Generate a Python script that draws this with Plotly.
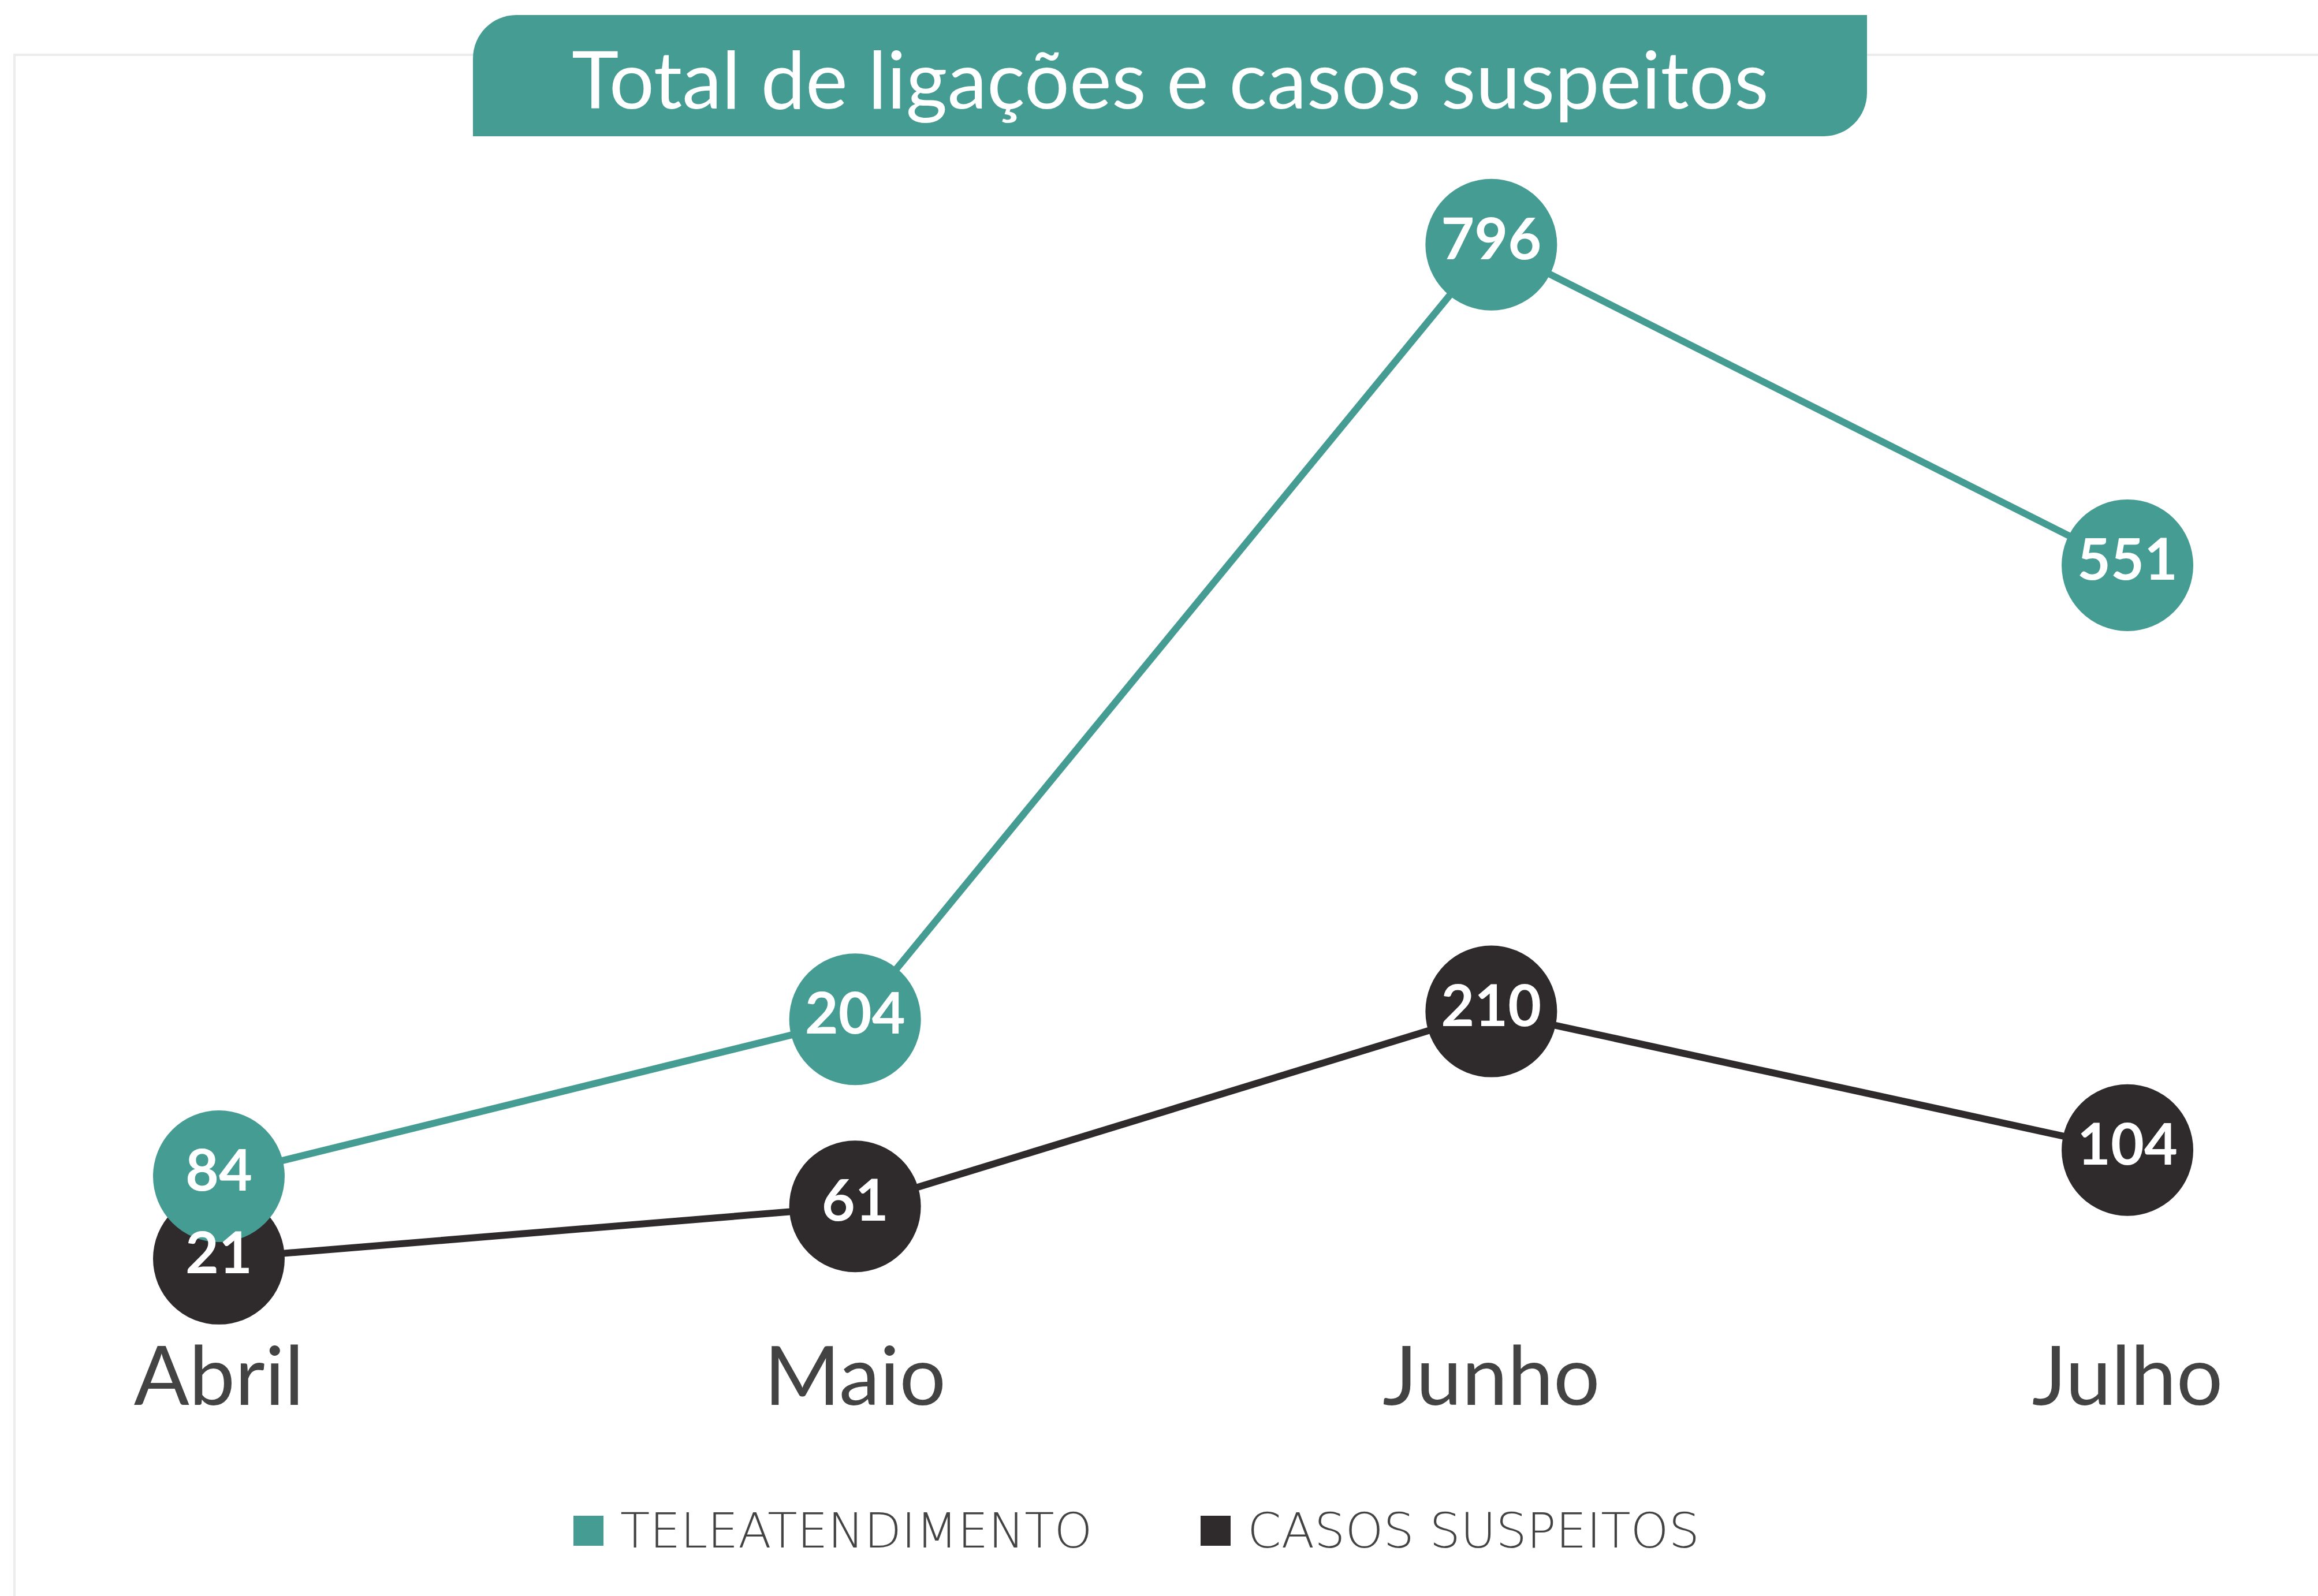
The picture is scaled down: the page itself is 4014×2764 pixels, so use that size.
import plotly.graph_objects as go

months = ["Abril", "Maio", "Junho", "Julho"]
teleatendimento = [84, 204, 796, 551]
casos_suspeitos = [21, 61, 210, 104]
series_names = ["TELEATENDIMENTO", "CASOS SUSPEITOS"]
title_text = "Total de ligações e casos suspeitos"

TEAL = "#459C92"
DARK = "#2F2B2C"
TEXT = "#434343"
W, H = 4014, 2764

def px(x):
    return x / W

def py(y):
    return 1 - y / H

fig = go.Figure()

series = [(series_names[1], casos_suspeitos, DARK), (series_names[0], teleatendimento, TEAL)]
for name, vals, col in series:
    fig.add_trace(go.Scatter(
        x=months, y=vals, name=name, mode="lines+markers",
        line=dict(color=col, width=12),
        marker=dict(size=228, color=col, line=dict(width=0)),
        cliponaxis=False, showlegend=False, hoverinfo="skip",
    ))
# value labels on top of all circles
for name, vals, col in series:
    fig.add_trace(go.Scatter(
        x=months, y=vals, name=name, mode="text",
        text=[str(v) for v in vals], textposition="middle center",
        textfont=dict(family="Lato", size=100, color="white", weight="bold"),
        cliponaxis=False, showlegend=False, hoverinfo="skip",
    ))

plot_bottom = 2290
fig.update_layout(
    width=W, height=H,
    margin=dict(l=0, r=0, t=0, b=0),
    paper_bgcolor="white", plot_bgcolor="rgba(0,0,0,0)",
    xaxis=dict(
        type="category", range=[-0.344, 3.2995], domain=[0, 1],
        showgrid=False, zeroline=False, showline=False, ticks="",
        tickfont=dict(family="Lato", size=142, color=TEXT),
        fixedrange=True,
    ),
    yaxis=dict(
        range=[-27.6, 983.0], domain=[1 - plot_bottom / H, 1],
        showgrid=False, zeroline=False, showline=False, showticklabels=False,
        fixedrange=True,
    ),
    showlegend=False,
)

shapes = []
# light frame
shapes.append(dict(type="rect", xref="paper", yref="paper",
                   x0=px(25), x1=px(W + 20), y0=py(H + 20), y1=py(95),
                   line=dict(color="#ECECEC", width=4), fillcolor="rgba(0,0,0,0)", layer="below"))
# title box with rounded top-left and bottom-right corners
x0, x1, yt, yb = px(819), px(3233), py(26), py(236)
rx, ry = 75 / W, 75 / H
path = (f"M {x0},{yb} L {x0},{yt - ry} C {x0},{yt - ry*0.45} {x0 + rx*0.45},{yt} {x0 + rx},{yt} "
        f"L {x1},{yt} L {x1},{yb + ry} C {x1},{yb + ry*0.45} {x1 - rx*0.45},{yb} {x1 - rx},{yb} Z")
shapes.append(dict(type="path", xref="paper", yref="paper", path=path,
                   fillcolor=TEAL, line=dict(width=0), layer="above"))
# legend squares
for xl, col in [(993, TEAL), (2079, DARK)]:
    shapes.append(dict(type="rect", xref="paper", yref="paper",
                       x0=px(xl), x1=px(xl + 52), y0=py(2677), y1=py(2625),
                       fillcolor=col, line=dict(width=0)))
fig.update_layout(shapes=shapes)

annotations = [
    dict(text=title_text, xref="paper", yref="paper", x=px(2026), y=py(134),
         xanchor="center", yanchor="middle", showarrow=False,
         font=dict(family="Lato", size=138, color="white")),
    dict(text=series_names[0], xref="paper", yref="paper", x=px(1072), y=py(2651),
         xanchor="left", yanchor="middle", showarrow=False,
         font=dict(family="DejaVu Sans", size=84, color=TEXT, weight=300)),
    dict(text=series_names[1], xref="paper", yref="paper", x=px(2158), y=py(2651),
         xanchor="left", yanchor="middle", showarrow=False,
         font=dict(family="DejaVu Sans", size=84, color=TEXT, weight=300)),
]
fig.update_layout(annotations=annotations)

fig.write_html("out.html")
